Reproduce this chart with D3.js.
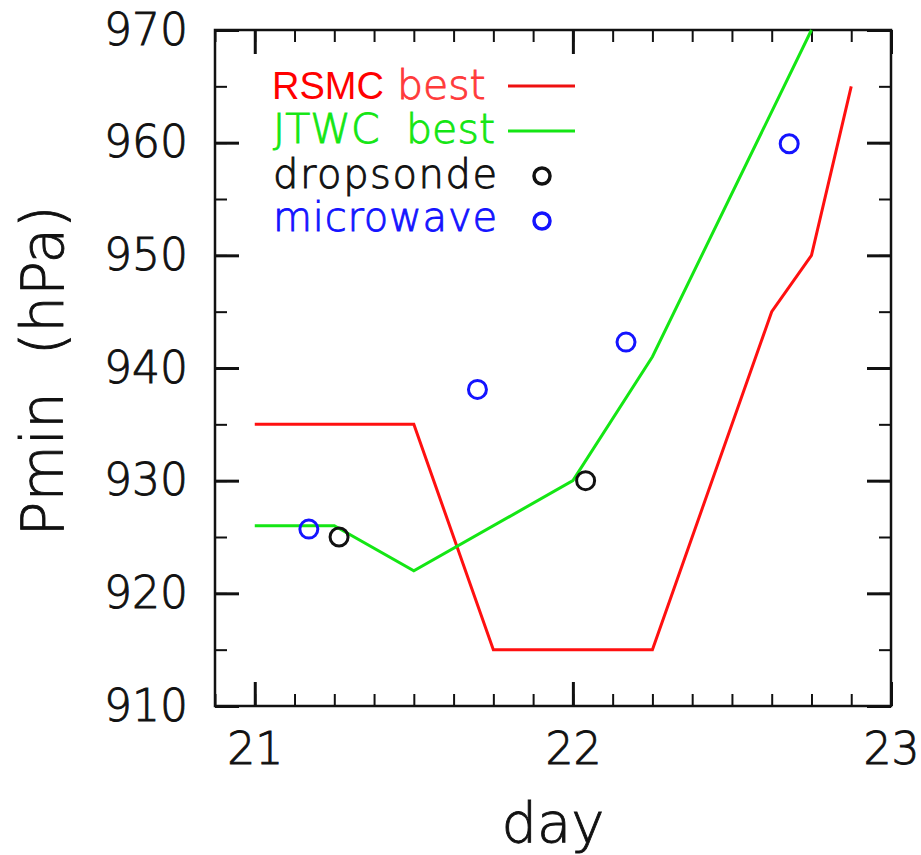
<!DOCTYPE html>
<html lang="en">
<head>
    <meta charset="UTF-8">
    <script src="https://cdn.jsdelivr.net/npm/d3@7"></script>
    <title>Pmin</title>
    <style>
        body { margin: 0; background: #fff; }
        .thin { font-family: "DejaVu Sans", Verdana, sans-serif; font-weight: 200; stroke-width: 0.9px; }
    </style>
</head>
<body>
</body>
<script>

    // RSMC best track (day, hPa)
    let rsmcDay = [21.0, 21.5, 21.75, 22.25, 22.625, 22.75, 22.875];
    let rsmcP   = [935, 935, 915, 915, 945, 950, 965];
    // JTWC best track
    let jtwcDay = [21.0, 21.25, 21.5, 22.0, 22.25, 22.75];
    let jtwcP   = [926, 926, 922, 930, 941, 970];
    // dropsonde
    let dropDay = [21.265, 22.04];
    let dropP   = [925, 930];
    // microwave
    let mwDay = [21.17, 21.70, 22.167, 22.68];
    let mwP   = [925.7, 938.1, 942.3, 959.9];

    let xMajor = [21, 22, 23];
    let yMajor = [910, 920, 930, 940, 950, 960, 970];

    let width = 921, height = 855;
    let pL = 215, pR = 891, pT = 30, pB = 706;

    let svg = d3.select("body")
        .append("svg")
        .attr("width", width)
        .attr("height", height);

    let x = d3.scaleLinear().domain([20.875, 23]).range([pL, pR]);
    let y = d3.scaleLinear().domain([910, 970]).range([pB, pT]);

    let xMinor = d3.range(20.875, 23.001, 0.125);
    let yMinor = d3.range(910, 970.1, 5);

    // minor ticks first, then major ticks on top
    function addAxis(axis, tx, ty, size, vals, labels) {
        let g = svg.append("g")
            .attr("transform", "translate(" + tx + "," + ty + ")")
            .call(axis.tickValues(vals).tickSize(size).tickFormat(labels ? d3.format("d") : ""));
        g.select(".domain").remove();
        g.selectAll("line").attr("stroke", "#111").attr("stroke-width", size === -24 ? 3 : 2);
        g.selectAll("text")
            .attr("class", "thin")
            .attr("font-size", 44)
            .attr("fill", "#111")
            .attr("stroke", "#111");
        return g;
    }

    addAxis(d3.axisBottom(x), 0, pB, -12, xMinor, false);
    addAxis(d3.axisTop(x), 0, pT, -12, xMinor, false);
    addAxis(d3.axisLeft(y), pL, 0, -12, yMinor, false);
    addAxis(d3.axisRight(y), pR, 0, -12, yMinor, false);

    addAxis(d3.axisBottom(x).tickPadding(27), 0, pB, -24, xMajor, true);
    addAxis(d3.axisTop(x), 0, pT, -24, xMajor, false);
    addAxis(d3.axisLeft(y).tickPadding(27), pL, 0, -24, yMajor, true);
    addAxis(d3.axisRight(y), pR, 0, -24, yMajor, false);

    // frame
    svg.append("rect")
        .attr("x", pL).attr("y", pT)
        .attr("width", pR - pL).attr("height", pB - pT)
        .attr("fill", "none")
        .attr("stroke", "#111")
        .attr("stroke-width", 2.5);

    let line = d3.line()
        .x(d => x(d[0]))
        .y(d => y(d[1]));

    svg.append("path")
        .datum(rsmcDay.map((d, i) => [d, rsmcP[i]]))
        .attr("d", line)
        .attr("fill", "none")
        .attr("stroke", "#ff1010")
        .attr("stroke-width", 3);

    svg.append("path")
        .datum(jtwcDay.map((d, i) => [d, jtwcP[i]]))
        .attr("d", line)
        .attr("fill", "none")
        .attr("stroke", "#14e614")
        .attr("stroke-width", 3);

    svg.selectAll(".drop")
        .data(dropDay.map((d, i) => [d, dropP[i]]))
        .enter().append("circle")
        .attr("cx", d => x(d[0]))
        .attr("cy", d => y(d[1]))
        .attr("r", 9)
        .attr("fill", "none")
        .attr("stroke", "#111")
        .attr("stroke-width", 3);

    svg.selectAll(".mw")
        .data(mwDay.map((d, i) => [d, mwP[i]]))
        .enter().append("circle")
        .attr("cx", d => x(d[0]))
        .attr("cy", d => y(d[1]))
        .attr("r", 9)
        .attr("fill", "none")
        .attr("stroke", "#1414ff")
        .attr("stroke-width", 3);

    // legend
    let lg = svg.append("g");
    let t1 = lg.append("text").attr("x", 272).attr("y", 99);
    t1.append("tspan").text("RSMC")
        .attr("font-family", "Liberation Sans, Arial, sans-serif")
        .attr("font-size", 38).attr("fill", "#ff0000");
    t1.append("tspan").text(" best")
        .attr("class", "thin")
        .attr("font-size", 41).attr("fill", "#ff3a3a").attr("stroke", "#ff3a3a");
    lg.append("line").attr("x1", 508).attr("x2", 575).attr("y1", 86).attr("y2", 86)
        .attr("stroke", "#ee1010").attr("stroke-width", 3);

    lg.append("text").attr("x", 273).attr("y", 143)
        .attr("class", "thin").attr("font-size", 41)
        .attr("fill", "#14e614").attr("stroke", "#14e614")
        .attr("xml:space", "preserve")
        .attr("textLength", 222)
        .text("JTWC  best");
    lg.append("line").attr("x1", 508).attr("x2", 575).attr("y1", 131).attr("y2", 131)
        .attr("stroke", "#14e614").attr("stroke-width", 3);

    lg.append("text").attr("x", 273).attr("y", 188)
        .attr("class", "thin").attr("font-size", 40)
        .attr("fill", "#111").attr("stroke", "#111")
        .attr("textLength", 224)
        .text("dropsonde");
    lg.append("circle").attr("cx", 542).attr("cy", 176).attr("r", 8)
        .attr("fill", "none").attr("stroke", "#111").attr("stroke-width", 3.5);

    lg.append("text").attr("x", 273).attr("y", 231)
        .attr("class", "thin").attr("font-size", 40)
        .attr("fill", "#1414ff").attr("stroke", "#1414ff")
        .attr("textLength", 224)
        .text("microwave");
    lg.append("circle").attr("cx", 542).attr("cy", 221).attr("r", 8)
        .attr("fill", "none").attr("stroke", "#1414ff").attr("stroke-width", 3.5);

    // axis titles
    svg.append("text")
        .attr("x", 553).attr("y", 842)
        .attr("text-anchor", "middle")
        .attr("class", "thin").attr("font-size", 56)
        .attr("fill", "#111").attr("stroke", "#111")
        .text("day");

    svg.append("text")
        .attr("transform", "translate(63,371) rotate(-90)")
        .attr("text-anchor", "middle")
        .attr("class", "thin").attr("font-size", 58)
        .attr("fill", "#111").attr("stroke", "#111")
        .attr("xml:space", "preserve")
        .text("Pmin  (hPa)");

</script>
</html>
